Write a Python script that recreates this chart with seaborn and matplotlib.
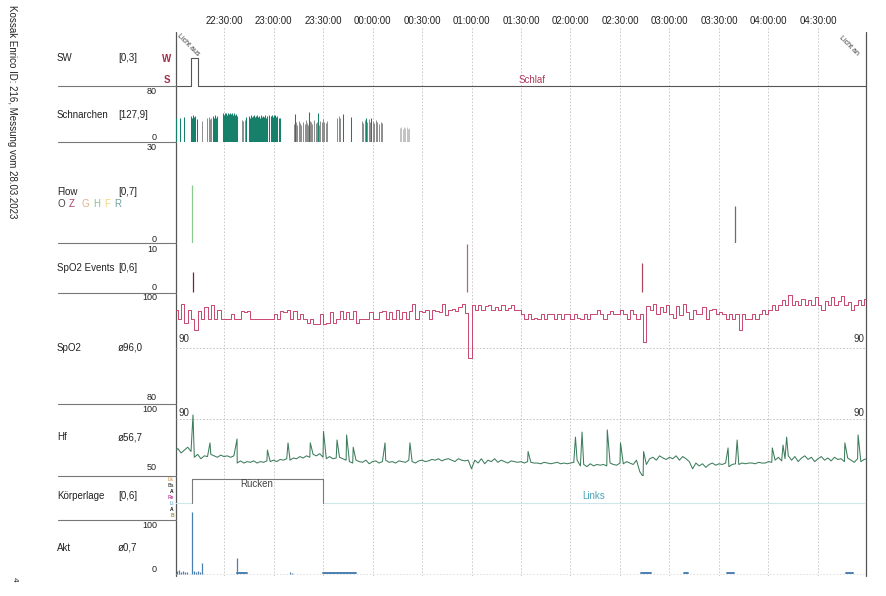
import numpy as np
import pandas as pd
import matplotlib
matplotlib.use("Agg")
import matplotlib.pyplot as plt
import matplotlib.transforms as mtransforms
from matplotlib.lines import Line2D
import seaborn as sns

# ------------------------------------------------------------------ data
# time axis: minutes after 22:00
time_ticks = [30, 60, 90, 120, 150, 180, 210, 240, 270, 300, 330, 360, 390]
time_labels = ["22:30:00", "23:00:00", "23:30:00", "00:00:00", "00:30:00",
               "01:00:00", "01:30:00", "02:00:00", "02:30:00", "03:00:00",
               "03:30:00", "04:00:00", "04:30:00"]
t_start, t_end = 0.9, 419.1

# Sleep / wake (0 = S, 1 = W)
sw_t = [0.9, 10.0, 14.2, 419.1]
sw_v = [0, 1, 0, 0]

# Snoring bars
snore_teal_t = [1.0, 3.3, 5.8, 9.8, 10.4, 11.0, 11.6, 12.2, 13.6, 23.3, 23.9, 24.5, 25.1, 25.8,
                29.4, 29.9, 30.4, 30.9, 31.4, 31.9, 32.4, 32.9, 33.4, 33.9, 34.4, 34.9, 35.4,
                35.9, 36.4, 37.0, 37.6, 43.5, 45.2, 45.8, 46.4, 47.0, 47.6, 48.2, 48.8, 49.4,
                50.0, 50.6, 51.2, 51.8, 52.4, 53.0, 53.6, 54.2, 54.8, 55.4, 56.0, 57.5, 58.2,
                58.9, 59.6, 60.3, 61.0, 61.7, 62.4, 63.1, 63.8, 73.0, 81.5, 87.0, 102.1,
                107.0, 116.0, 119.0]
snore_teal_h = [35, 34, 36, 37, 35, 38, 36, 37, 33, 37, 34, 38, 35, 37,
                41, 39, 42, 40, 41, 39, 42, 40, 41, 39, 40, 42, 39,
                41, 38, 40, 37, 36, 37, 35, 38, 36, 37, 38, 36, 37,
                38, 36, 37, 35, 38, 36, 37, 36, 38, 35, 37, 38, 37,
                39, 36, 38, 39, 36, 37, 35, 34, 40, 43, 41, 40,
                36, 35, 35]
snore_grey_t = [16.5, 19.7, 20.9, 21.5, 22.1, 40.9, 41.7, 42.5,
                72.4, 73.6, 74.4, 75.2, 76.0, 76.8, 77.6, 78.8, 79.6, 80.4, 81.2, 82.0,
                82.8, 83.6, 84.8, 85.6, 86.4, 87.6, 88.4, 89.2, 90.0, 90.8, 91.6, 92.4,
                98.5, 99.4, 100.3, 113.6, 114.4, 115.2, 116.8, 117.6, 118.4, 120.0,
                121.0, 122.0, 123.0, 124.0, 125.0, 126.0]
snore_grey_h = [30, 34, 36, 33, 35, 32, 30, 31,
                26, 28, 25, 30, 27, 24, 29, 26, 31, 27, 25, 30,
                28, 26, 31, 27, 29, 25, 30, 28, 33, 29, 27, 30,
                34, 37, 35, 30, 27, 31, 28, 33, 29, 30,
                27, 31, 28, 26, 29, 27]
snore_light_t = [136.7, 137.5, 138.3, 139.1, 139.9, 140.7, 141.5, 142.3]
snore_light_h = [20, 22, 19, 21, 20, 22, 19, 20]

# Flow events
flow_t = [10.6, 339.7]
flow_h = [17.2, 11.0]
flow_c = ["#8cc98c", "#6e6e6e"]

# SpO2 events
spo2ev_t = [11.2, 177.3, 283.3]
spo2ev_h = [4.2, 9.8, 6.0]
spo2ev_c = ["#7a2035", "#b06878", "#a84a5c"]

# SpO2 (2-minute steps from 22:00)
spo2_v = [96.9, 95.3, 98.0, 94.6, 97.0, 95.3, 93.4, 96.8,
          95.3, 97.5, 95.3, 97.8, 95.3, 96.9, 95.3, 95.3,
          95.3, 96.3, 95.3, 95.3, 96.8, 96.5, 96.8, 95.3,
          95.3, 95.3, 95.3, 95.3, 95.3, 95.3,
          96.3, 95.3, 96.8, 96.5, 97.0, 95.3, 96.8, 95.3, 96.3, 95.3, 94.6, 95.3, 94.5,
          94.5, 96.2, 94.5, 94.6, 96.5, 94.6, 95.3, 96.8, 95.3, 96.5, 95.3, 96.7, 94.6, 95.3,
          95.3, 95.3, 96.5, 95.3, 95.3, 96.6, 96.8, 95.3, 96.5, 95.3, 97.0, 95.3,
          96.6, 95.3, 96.8, 98.0, 95.3, 96.8, 96.5, 96.9, 95.3, 97.0, 96.8, 96.6, 98.1,
          96.0, 96.9, 97.2, 96.8, 97.5, 98.0, 96.4, 88.3,
          97.8, 96.9, 97.8, 96.9, 97.6, 97.8, 96.9, 97.5, 96.9, 97.8, 96.9, 97.3, 97.8,
          96.9, 96.9, 96.2,
          95.4, 96.2, 95.4, 95.5, 95.4, 96.2, 95.4, 96.2, 96.2, 95.4, 96.2, 95.4, 96.2,
          96.2, 95.4, 96.2, 95.5, 95.4, 96.2, 95.4, 96.2,
          96.2, 96.9, 96.2, 95.4, 96.2, 96.8, 96.2, 96.2, 96.9, 96.2, 95.4, 96.9, 96.2,
          95.4, 96.2, 91.2,
          97.6, 96.9, 98.1, 96.2, 97.5, 96.5, 97.8, 96.2, 95.5, 97.6, 96.0, 98.0, 96.5,
          95.4, 97.0, 96.2, 96.2, 97.5, 95.4, 96.9, 97.2, 96.2, 96.5,
          96.2, 95.4, 96.2, 95.4, 96.2, 93.3, 96.2, 95.4, 95.4, 96.2, 95.4, 96.2, 96.9,
          96.2, 96.9,
          97.8, 96.9, 97.8, 98.7, 97.8, 99.6, 97.8, 98.6, 97.8, 99.0, 97.8, 98.8, 97.8,
          99.3, 97.8, 96.9, 98.5, 97.8, 99.2, 97.8, 98.6, 99.5, 97.8, 98.4, 96.9, 97.8,
          98.7, 97.8, 99.0, 97.8]

# Heart rate (2-minute samples from 22:00) plus short spikes
hf_v = [67, 69, 66, 68, 70, 67,
        63, 65, 62, 64, 63.5, 65, 64, 63, 64.5, 63.5, 64, 63, 64,
        59, 60.5, 59, 60, 59.5, 60.5, 59, 60, 59.5, 60.5,
        60, 61, 60, 61.5, 61, 62, 61, 62.5, 62, 63.5, 62.5, 64, 63, 65, 64, 65.5,
        63, 62, 63.5, 62, 62.5, 63, 62, 61,
        60, 59, 61, 60, 59.5, 61, 58.5, 60, 60.5, 59, 60, 61, 59.5, 60, 59, 60.5, 60,
        59.5, 61, 60, 59, 60.5, 61, 60, 60.5, 61.5, 61, 62, 60.5, 61.5, 62, 61, 60,
        62, 61, 60.5, 61,
        55, 61, 59, 62, 58.5, 61, 60, 62, 59.5, 61, 60, 59, 60.5, 60, 59.5, 60, 59, 60,
        59.5, 59,
        59, 58.5, 59.5, 59, 58.5, 59, 59.5, 58.5, 59, 58.5, 59, 59.5,
        61, 57, 58, 56.5, 58.5, 57, 58, 57.5, 58, 57, 59, 58, 57.5, 59, 58.5, 60,
        59, 58, 61, 53, 49.5,
        58, 62, 63, 61, 64, 62.5, 61.5, 63, 62, 64, 61, 63.5, 62,
        60, 55, 59, 57, 58.5, 56, 58, 59, 57.5, 58.5, 58, 59, 56.5, 58, 58.5, 58,
        59, 58.5, 59, 59, 58.5, 59.5, 59, 59, 60, 59.5,
        61, 63, 60.5, 62, 64, 61, 63.5, 60, 62.5, 64, 61.5, 63, 60, 62, 63.5, 61, 62.5,
        60.5, 63, 61.5, 62, 60, 62.5, 61, 59.5, 62, 60, 61.5, 62]
hf_spike_t = [11.2, 21.5, 37.9, 56.3, 68.8, 82.3, 90.3, 98.5, 104.3, 108.3, 127.6,
              142.7, 214.3, 243.0, 247.0, 262.3, 270.3, 284.3, 335.5, 341.0, 362.3,
              368.8, 371.0, 406.3, 414.3]
hf_spike_v = [92.4, 73, 75.7, 68, 73, 73, 81, 75, 78.5, 70, 73,
              73, 67, 77, 80.5, 82, 73, 67, 69.5, 75, 69.5,
              71.5, 77, 73, 78.5]

# Body position (2 = Links, 6 = Rücken)
pos_t = [0.9, 10.6, 90.0, 419.1]
pos_v = [2, 6, 2, 2]
pos_codes = ["Lk", "Ba", "A", "Re", "Li", "A", "B"]
pos_code_colors = ["#d9a066", "#555555", "#111111", "#c04aa0", "#7ab0d8", "#111111", "#a09040"]

# Activity
akt_t = [1.5, 2.7, 4.0, 5.2, 6.4, 7.6, 10.6, 11.8, 13.0, 14.2, 15.5, 16.7, 37.9, 70.0, 71.0]
akt_v = [5, 8, 4, 6, 3, 4, 119, 6, 4, 5, 3, 21, 31, 3, 2]
akt_dash = [(38, 44), (90, 110), (283, 289), (309, 311), (335, 339), (407, 411)]

# ------------------------------------------------------------------ figure
sns.set_theme(style="white")
plt.rcParams["font.family"] = ["Liberation Sans", "DejaVu Sans"]

W, H = 887, 596
fig = plt.figure(figsize=(W / 100, H / 100), dpi=100)
fig.patch.set_facecolor("white")

X0, X1 = 176, 866


def fx(px):
    return px / W


def fy(py):
    return 1 - py / H


def panel(top, bottom, ylim):
    ax = fig.add_axes([fx(X0), fy(bottom), (X1 - X0) / W, (bottom - top) / H])
    ax.set_xlim(t_start, t_end)
    ax.set_ylim(*ylim)
    ax.axis("off")
    ax.patch.set_alpha(0)
    return ax


# background axes with time grid
BG_TOP = 27
bg = fig.add_axes([fx(X0), fy(576), (X1 - X0) / W, (576 - BG_TOP) / H])
bg.set_xlim(t_start, t_end)
bg.set_ylim(0, 1)
for s in bg.spines.values():
    s.set_visible(False)
bg.set_yticks([])
bg.set_xticks(time_ticks)
bg.set_xticklabels(time_labels)
bg.tick_params(axis="x", top=True, bottom=False, labeltop=True, labelbottom=False,
               length=0, pad=1.0, labelsize=7, labelcolor="#222222")
bg.grid(axis="x", color="#c4c4c4", linestyle=(0, (2, 2)), linewidth=0.6)
ytop_frac = (576 - 32) / (576 - BG_TOP)
for tx in (t_start, t_end):
    bg.plot([tx, tx], [0, ytop_frac], color="#555555", lw=0.9, clip_on=False)

# ---- SW
ax_sw = panel(30, 86, (0, 2))
sns.lineplot(x=sw_t, y=sw_v, ax=ax_sw, drawstyle="steps-post", color="#555555",
             lw=0.8, estimator=None, clip_on=False)
ax_sw.text(208.5, 0.22, "Schlaf", color="#b03a5b", fontsize=7, ha="left", va="center")
ax_sw.text(8.0, 1.45, "Licht aus", rotation=-45, fontsize=5, ha="center",
           va="center", color="#333333")
ax_sw.text(409, 1.45, "Licht an", rotation=-45, fontsize=5, ha="center",
           va="center", color="#333333")

# ---- Schnarchen
ax_sn = panel(86, 142, (0, 80))
ax_sn.vlines(snore_grey_t, 0, snore_grey_h, color="#8c8c8c", lw=0.7)
ax_sn.vlines(snore_light_t, 0, snore_light_h, color="#c2c2c2", lw=0.7)
ax_sn.vlines(snore_teal_t, 0, snore_teal_h, color="#17806b", lw=0.75)

# ---- Flow
ax_fl = panel(142, 243, (0, 30))
ax_fl.vlines(flow_t, 0, flow_h, colors=flow_c, lw=0.9)

# ---- SpO2 events
ax_ev = panel(243, 293, (0, 10))
ax_ev.vlines(spo2ev_t, 0.2, spo2ev_h, colors=spo2ev_c, lw=0.9)

# ---- SpO2
ax_sp = panel(293, 404, (80, 100))
spo2_t = [2 * i for i in range(len(spo2_v))]
ax_sp.axhline(90, color="#bdbdbd", ls=(0, (2, 2)), lw=0.6)
sns.lineplot(x=spo2_t, y=spo2_v, ax=ax_sp, drawstyle="steps-post", color="#c43a64",
             lw=0.65, estimator=None)
tr_sp = mtransforms.blended_transform_factory(ax_sp.transAxes, ax_sp.transData)
ax_sp.text(0.003, 90.9, "90", transform=tr_sp, fontsize=7, ha="left", va="bottom",
           color="#333333")
ax_sp.text(0.997, 90.9, "90", transform=tr_sp, fontsize=7, ha="right", va="bottom",
           color="#333333")

# ---- Hf
ax_hf = panel(404, 476, (50, 100))
hf_df = pd.DataFrame({"t": [2 * i for i in range(len(hf_v))] + hf_spike_t,
                      "v": hf_v + hf_spike_v}).sort_values("t")
ax_hf.axhline(89.5, color="#bdbdbd", ls=(0, (2, 2)), lw=0.6)
sns.lineplot(data=hf_df, x="t", y="v", ax=ax_hf, color="#3d7d5c", lw=0.75,
             estimator=None, sort=False)
tr_hf = mtransforms.blended_transform_factory(ax_hf.transAxes, ax_hf.transData)
ax_hf.text(0.003, 90.5, "90", transform=tr_hf, fontsize=7, ha="left", va="bottom",
           color="#333333")
ax_hf.text(0.997, 90.5, "90", transform=tr_hf, fontsize=7, ha="right", va="bottom",
           color="#333333")

# ---- Körperlage
ax_pos = panel(476, 520, (-0.83, 6.5))
seg_r = [(pos_t[i], pos_t[i + 1], pos_v[i]) for i in range(len(pos_t) - 1)]
for i, (a, b, lev) in enumerate(seg_r):
    col = "#7a7a7a" if lev == 6 else "#cfe7ec"
    sns.lineplot(x=[a, b], y=[lev, lev], ax=ax_pos, color=col, lw=0.8, estimator=None)
    if i > 0:
        prev = seg_r[i - 1][2]
        ax_pos.plot([a, a], [prev, lev], color="#7a7a7a", lw=0.8)
ax_pos.text(50.0, 5.2, "Rücken", fontsize=7, ha="center", va="center", color="#444444")
ax_pos.text(254.0, 3.1, "Links", fontsize=7, ha="center", va="center", color="#4aa3b8")
tr_pos = mtransforms.blended_transform_factory(ax_pos.transAxes, ax_pos.transData)
for k, (code, c) in enumerate(zip(pos_codes, pos_code_colors)):
    ax_pos.text(-0.003, 6 - k, code, transform=tr_pos, fontsize=3.6, ha="right",
                va="center", color=c, fontweight="bold", clip_on=False)

# ---- Akt
ax_akt = panel(520, 576, (-3.8, 103.8))
ax_akt.axhline(0, color="#dcdcdc", lw=0.6, ls=(0, (2, 2)))
ax_akt.vlines(akt_t, 0, akt_v, color="#4a7fb0", lw=0.9, clip_on=False)
for a, b in akt_dash:
    ax_akt.plot([a, b], [2.5, 2.5], color="#4a7fb0", lw=1.4)

# ------------------------------------------------------------------ left column
for yy in (86, 142, 243, 293, 404, 476, 520):
    fig.add_artist(Line2D([fx(58), fx(X0)], [fy(yy), fy(yy)], color="#777777", lw=0.8))

labels = [("SW", "[0,3]", 58), ("Schnarchen", "[127,9]", 115), ("Flow", "[0,7]", 192),
          ("SpO2 Events", "[0,6]", 268), ("SpO2", "ø96,0", 348), ("Hf", "ø56,7", 437),
          ("Körperlage", "[0,6]", 496), ("Akt", "ø0,7", 548)]
for name, rng, yy in labels:
    fig.text(fx(57), fy(yy), name, fontsize=7, ha="left", va="center", color="#222222")
    fig.text(fx(118), fy(yy), rng, fontsize=7, ha="left", va="center", color="#222222")

flow_letters = [("O", "#444444", 61.5), ("Z", "#b0406a", 71.5), ("G", "#d9b38c", 85),
                ("H", "#8cc08c", 96.5), ("F", "#f0d878", 107), ("R", "#70a0a0", 118)]
for ch, c, xx in flow_letters:
    fig.text(fx(xx), fy(204), ch, fontsize=7, ha="center", va="center", color=c)

fig.text(fx(162), fy(59), "W", fontsize=7, ha="left", va="center", color="#a0304a",
         fontweight="bold")
fig.text(fx(164), fy(80), "S", fontsize=7, ha="left", va="center", color="#a0304a",
         fontweight="bold")

ticks_left = [("80", 92), ("0", 138), ("30", 148), ("0", 239), ("10", 250), ("0", 288),
              ("100", 298), ("80", 398), ("100", 409), ("50", 467), ("100", 525), ("0", 570)]
for s, yy in ticks_left:
    fig.text(fx(157), fy(yy), s, fontsize=6.5, ha="right", va="center", color="#222222")

fig.text(fx(12), fy(112), "Kossak Enrico ID: 216, Messung vom 28.03.2023", rotation=-90,
         fontsize=7, ha="center", va="center", color="#222222")
fig.text(fx(14), fy(579), "4", rotation=-90, fontsize=6, ha="center", va="center",
         color="#222222")

fig.savefig("out.png", dpi=100, facecolor="white")
